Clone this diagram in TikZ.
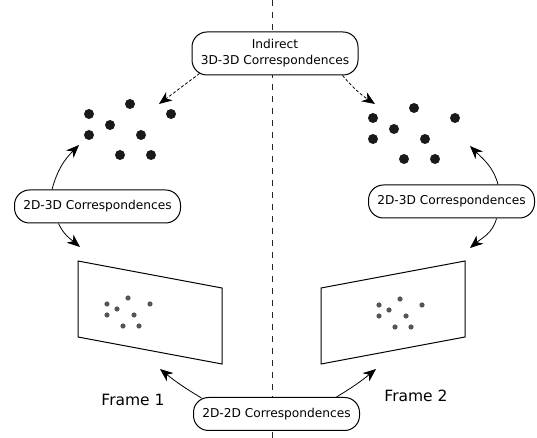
\documentclass[tikz,border=0pt]{standalone}
\usepackage{fontspec}
\setmainfont{DejaVu Sans}
\usepackage{tikz}
\usetikzlibrary{arrows.meta}
\definecolor{dotdark}{HTML}{1A1A1A}
\definecolor{dotgray}{HTML}{555555}

\begin{document}
\begin{tikzpicture}[
x=1pt, y=1pt,
corr/.style={draw, line width=1pt, rounded corners=15pt, fill=white, align=center, minimum width=166pt, minimum height=33pt, inner sep=2pt, font=\fontsize{12.2}{16}\selectfont},
imgplane/.style={draw, line width=1pt, line join=miter},
framename/.style={font=\fontsize{15.5}{18}\selectfont},
arrow/.style={-{Stealth[length=13pt, width=10.5pt, inset=4pt]}, line width=0.8pt},
dasharrow/.style={arrow, dash pattern=on 3pt off 2pt}
]
\useasboundingbox (0,0) rectangle (537,438);
\draw[line width=0.8pt, black!85, dash pattern=on 6pt off 6pt] (272,0) -- (272,438);

\draw[imgplane] (78,177) -- (222,150) -- (222,74) -- (78,101) -- cycle;
\draw[imgplane] (321,150) -- (465,177) -- (465,101) -- (321,74) -- cycle;

\foreach \bx/\by in {89/324, 373/320}
  \foreach \dx/\dy in {0/0, 41/10, 82/0, 21/-11, 0/-21, 52/-21, 31/-41, 62/-41}
    \fill[dotdark] (\bx+\dx, \by+\dy) circle (5);
\foreach \bx/\by in {107/134, 379/133}
  \foreach \dx/\dy in {0/0, 21/6, 43/0, 10/-5, 0/-11, 27/-11, 16/-22, 32/-22}
    \fill[dotgray] (\bx+\dx, \by+\dy) circle (2.6);

\node[corr, minimum height=43pt] (indirect) at (275,384.5) {Indirect\\3D-3D Correspondences};
\node[corr] (corrL) at (97.5,231.5) {2D-3D Correspondences};
\node[corr] (corrR) at (451.5,236.5) {2D-3D Correspondences};
\node[corr] (corr22) at (276.5,24) {2D-2D Correspondences};
\node[framename] (frame1) at (133,38) {Frame 1};
\node[framename] (frame2) at (416,42) {Frame 2};

\coordinate (cloudLtop) at (159,334);
\coordinate (cloudRtop) at (375,334);
\coordinate (cloudLside) at (79,293);
\coordinate (cloudRside) at (470,292);
\coordinate (planeLtop) at (80,191);
\coordinate (planeRtop) at (470,190);
\coordinate (planeLbot) at (160,69);
\coordinate (planeRbot) at (376,69);

\draw[dasharrow] ([xshift=8pt, yshift=2pt]indirect.south west) -- (cloudLtop);
\draw[dasharrow] ([xshift=-16pt]indirect.south east) to[bend right=8] (cloudRtop);
\draw[arrow] ([xshift=-45.5pt]corrL.north) to[out=75, in=225] (cloudLside);
\draw[arrow] ([xshift=-39pt]corrL.south) to[out=-65, in=140] (planeLtop);
\draw[arrow] ([xshift=46.5pt]corrR.north) to[out=105, in=-45] (cloudRside);
\draw[arrow] ([xshift=45pt]corrR.south) to[out=-105, in=40] (planeRtop);
\draw[arrow] ([xshift=-75pt, yshift=-1pt]corr22.north) to[bend left=4] (planeLbot);
\draw[arrow] ([xshift=60pt]corr22.north) to[bend right=4] (planeRbot);
\end{tikzpicture}
\end{document}
